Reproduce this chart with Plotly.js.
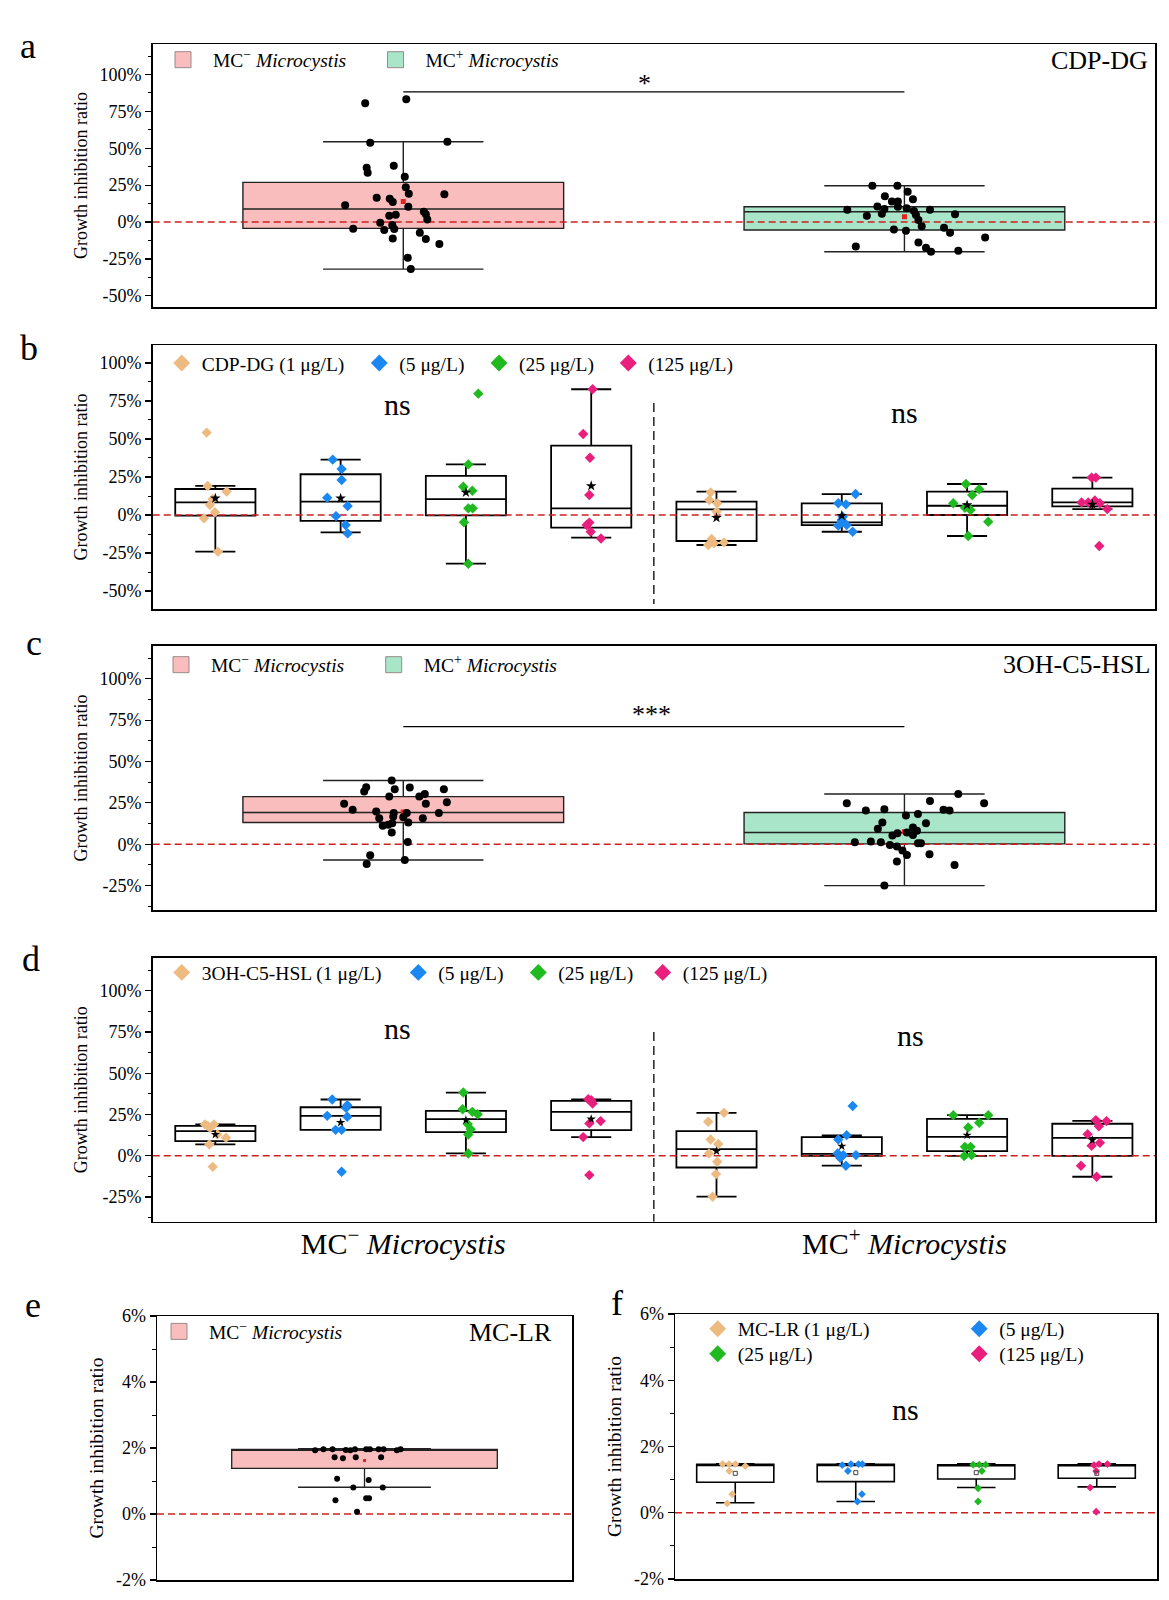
<!DOCTYPE html>
<html><head><meta charset="utf-8">
<script src="https://cdn.plot.ly/plotly-3.0.1.min.js"></script>
<style>html,body{margin:0;padding:0;background:#fff}</style>
</head><body>
<div id="chart" style="width:1169px;height:1600px"></div>
<script>
// ================= DATA (values in %) =================
const strainNames = ['MC<sup>−</sup> <i>Microcystis</i>', 'MC<sup>+</sup> <i>Microcystis</i>'];
const cdpLegend = ['CDP-DG (1 μg/L)', '(5 μg/L)', '(25 μg/L)', '(125 μg/L)'];
const hslLegend = ['3OH-C5-HSL (1 μg/L)', '(5 μg/L)', '(25 μg/L)', '(125 μg/L)'];
const lrLegend = ['MC-LR (1 μg/L)', '(5 μg/L)', '(25 μg/L)', '(125 μg/L)'];

const tickValsBig = [-50, -25, 0, 25, 50, 75, 100];
const tickTextBig = ['-50%', '-25%', '0%', '25%', '50%', '75%', '100%'];
const tickValsMid = [-25, 0, 25, 50, 75, 100];
const tickTextMid = ['-25%', '0%', '25%', '50%', '75%', '100%'];
const tickValsSmall = [-2, 0, 2, 4, 6];
const tickTextSmall = ['-2%', '0%', '2%', '4%', '6%'];

// Panel a: CDP-DG, pooled per strain
const aNegVals = [80.5, 83.2, 53.8, 54.4, 36.8, 33.4, 38.2, 30.7, 23.5, 19.2, 18.8, 16.5, 15.8, 13.6, 11.3, 10.4, 7.0, 5.2, 4.9, 4.3, 1.8, -0.5, -2.0, -4.5, -5.4, -4.7, -7.3, -11.1, -11.5, -14.9, -24.2, -31.9];
const aNegJit = [-0.076, 0.006, -0.066, 0.088, -0.073, -0.071, -0.019, 0.003, 0.005, 0.011, 0.082, -0.053, -0.027, -0.021, -0.116, 0.010, 0.041, 0.045, -0.015, -0.028, 0.048, -0.046, -0.022, -0.100, -0.038, -0.018, 0.033, -0.021, 0.045, 0.072, 0.009, 0.015];
const aPosVals = [24.6, 24.6, 20.5, 15.4, 17.4, 14.0, 14.0, 10.6, 8.8, 8.4, 10.4, 9.3, 7.5, 8.4, 5.6, 4.3, 4.7, 5.2, 1.4, -2.9, -5.0, -5.9, -3.9, -7.3, -10.4, -16.5, -13.8, -17.4, -20.1, -19.5];
const aPosJit = [-0.064, -0.014, 0.0065, 0.017, -0.039, -0.025, -0.013, -0.054, -0.040, -0.114, -0.013, 0.0045, 0.019, 0.051, -0.045, -0.075, 0.023, 0.101, 0.028, 0.0345, -0.021, 0.003, 0.079, 0.091, 0.161, -0.097, 0.028, 0.043, 0.053, 0.1075];
const aQ1 = [-4.3, -5.4], aMedian = [8.8, 7.0], aQ3 = [26.9, 10.4], aLow = [-31.9, -20.1], aHigh = [54.4, 24.6], aMean = [14.0, 3.6];

// Panel b: CDP-DG by concentration (1, 5, 25, 125 μg/L) for MC− then MC+
const bNeg1 = [54.2, 19.1, 15.4, 10.5, 6.6, 1.8, -2.2, -24.1];
const bNeg1Jit = [-0.069, -0.061, 0.09, -0.021, -0.043, -0.003, -0.091, 0.021];
const bNeg5 = [36.4, 30.3, 23.0, 11.4, 5.9, -0.7, -6.6, -12.1];
const bNeg5Jit = [-0.063, 0.008, 0.008, -0.107, 0.056, -0.037, 0.040, 0.056];
const bNeg25 = [79.8, 33.3, 18.6, 16.0, 4.4, 4.4, -4.8, -32.0];
const bNeg25Jit = [0.099, 0.019, -0.021, 0.051, 0.019, 0.054, -0.016, 0.019];
const bNeg125 = [82.7, 53.3, 37.7, 13.2, -5.0, -6.6, -11.0, -15.4];
const bNeg125Jit = [0.011, -0.064, -0.01, -0.015, -0.015, -0.036, -0.004, 0.078];
const bPos1 = [14.9, 9.9, 7.7, 2.2, -15.8, -19.7, -18.0, -18.6];
const bPos1Jit = [-0.047, -0.058, 0.006, 0.001, -0.039, -0.066, 0.06, -0.02];
const bPos5 = [13.8, 7.7, 7.0, -3.3, -7.0, -6.6, -11.0, -1.1];
const bPos5Jit = [0.11, -0.028, 0.033, -0.001, -0.028, 0.039, 0.087, 0.007];
const bPos25 = [20.4, 16.9, 13.2, 7.7, 4.8, 3.3, -4.4, -13.8];
const bPos25Jit = [-0.009, 0.097, 0.041, -0.11, -0.017, 0.028, 0.169, 0.009];
const bPos125 = [24.6, 24.6, 8.3, 8.3, 9.6, 7.7, 3.9, -20.4];
const bPos125Jit = [-0.006, 0.028, -0.086, -0.033, 0.02, 0.06, 0.119, 0.055];
const bQ1 = [-0.4, -3.9, -0.2, -8.3, -17.1, -6.6, 0.0, 5.7];
const bMedian = [8.3, 8.8, 10.5, 4.4, 3.7, -4.8, 6.1, 8.3];
const bQ3 = [17.1, 26.8, 25.7, 45.6, 8.8, 7.7, 15.4, 17.3];
const bLow = [-24.1, -11.4, -32.0, -14.9, -19.7, -11.0, -13.8, 3.9];
const bHigh = [19.1, 36.4, 33.3, 82.7, 15.4, 13.8, 20.4, 24.6];
const bMean = [11.0, 11.0, 14.9, 19.1, -1.8, -0.4, 6.6, 7.0];

// Panel c: 3OH-C5-HSL, pooled per strain
const cNegVals = [38.5, 34.5, 31.9, 33.3, 34.3, 33.3, 28.8, 28.8, 30.4, 24.4, 25.4, 24.4, 20.8, 19.8, 18.8, 18.8, 18.8, 15.7, 16.7, 16.3, 15.7, 13.1, 11.1, 11.7, 12.7, 7.1, 1.4, -6.7, -11.9, -9.5];
const cNegJit = [-0.023, -0.074, -0.078, -0.017, 0.013, 0.081, -0.028, 0.032, 0.043, 0.045, 0.087, -0.118, -0.101, -0.054, -0.019, 0.007, 0.071, -0.048, -0.02, 0.0, 0.039, 0.01, -0.041, -0.03, -0.022, -0.023, 0.009, -0.066, -0.073, 0.003];
const cPosVals = [30.4, 24.8, 24.8, 20.4, 21.2, 26.2, 20.8, 20.4, 17.3, 18.3, 12.7, 13.1, 9.3, 10.1, 8.1, 6.7, 5.2, 7.1, 5.6, 1.2, 1.6, 1.2, -0.4, -1.4, 0.6, 0.6, -3.8, -6.5, -6.0, -10.5, -12.5, -25.0];
const cPosJit = [0.1075, 0.159, -0.115, -0.077, -0.04, 0.051, 0.078, 0.09, 0.003, 0.027, 0.043, -0.044, -0.053, 0.017, 0.025, -0.014, -0.024, 0.005, 0.017, -0.099, -0.067, -0.047, -0.029, -0.015, 0.027, 0.033, -0.004, 0.005, 0.05, -0.015, 0.1, -0.04];
const cQ1 = [13.1, 0.2], cMedian = [19.2, 7.1], cQ3 = [28.8, 19.2], cLow = [-9.5, -25.0], cHigh = [38.5, 30.4], cMean = [19.5, 7.5];

// Panel d: 3OH-C5-HSL by concentration
const dNeg1 = [19.0, 19.0, 16.9, 12.9, 10.9, 6.9, -6.7, 18.1];
const dNeg1Jit = [-0.083, -0.011, -0.043, 0.016, 0.085, -0.048, -0.021, -0.06];
const dNeg5 = [34.1, 30.6, 29.0, 24.2, 23.6, 15.7, 15.7, -9.7];
const dNeg5Jit = [-0.067, 0.053, 0.043, -0.107, 0.053, -0.04, 0.008, 0.008];
const dNeg25 = [38.3, 28.2, 26.6, 25.2, 19.2, 16.1, 12.9, 1.4];
const dNeg25Jit = [-0.021, -0.026, 0.051, 0.094, 0.014, 0.038, 0.019, 0.019];
const dNeg125 = [34.3, 31.7, 21.0, 19.6, 11.3, -11.7, 33.7];
const dNeg125Jit = [-0.024, 0.011, 0.075, -0.015, -0.064, -0.015, 0.0];
const dPos1 = [26.0, 20.6, 9.9, 7.1, 1.4, -3.6, -11.1, -24.8];
const dPos1Jit = [0.06, -0.066, -0.047, 0.014, -0.06, 0.006, -0.004, -0.031];
const dPos5 = [30.2, 12.5, 9.9, 1.4, 0.4, 0.4, -1.2, -6.0];
const dPos5Jit = [0.087, 0.039, -0.028, -0.033, 0.012, 0.113, -0.013, 0.033];
const dPos25 = [24.6, 24.6, 20.0, 17.1, 5.4, 5.4, -0.2, 0.4];
const dPos25Jit = [-0.11, 0.169, 0.097, 0.009, -0.017, 0.028, -0.023, 0.036];
const dPos125 = [21.6, 21.0, 17.9, 13.1, 7.9, 6.0, -6.0, -12.7];
const dPos125Jit = [0.028, 0.113, 0.052, -0.038, 0.06, -0.006, -0.091, 0.034];
const dQ1 = [8.9, 15.7, 14.3, 15.5, -7.1, 0.0, 2.8, 0.0];
const dMedian = [14.9, 24.2, 22.2, 26.6, 4.0, 1.2, 11.5, 10.9];
const dQ3 = [18.1, 29.4, 27.2, 33.3, 14.9, 11.3, 22.4, 19.4];
const dLow = [6.9, 15.7, 1.4, 11.3, -24.8, -6.0, 0.0, -12.7];
const dHigh = [19.0, 34.1, 38.3, 34.1, 26.0, 12.3, 24.6, 21.2];
const dMean = [12.9, 20.2, 21.6, 22.2, 2.8, 5.8, 12.5, 9.5];

// Panel e: MC-LR on MC− strain, pooled
const eVals = [1.93, 1.96, 1.96, 1.94, 1.93, 1.96, 1.96, 1.96, 1.96, 1.96, 1.93, 1.96, 1.72, 1.69, 1.72, 1.72, 1.07, 1.03, 0.80, 0.80, 0.42, 0.48, 0.48, 0.07];
const eJit = [-0.119, -0.099, -0.077, -0.045, -0.034, -0.023, 0.004, 0.013, 0.034, 0.046, 0.078, 0.087, -0.072, -0.052, -0.021, 0.04, -0.066, 0.01, -0.027, 0.044, -0.07, 0.004, 0.011, -0.018];
const eQ1 = [1.385], eMedian = [1.96], eQ3 = [1.96], eLow = [0.81], eHigh = [1.98], eMean = [1.62];

// Panel f: MC-LR by concentration
const f1 = [1.47, 1.47, 1.47, 1.41, 1.26, 0.56, 0.28];
const f1Jit = [-0.105, -0.051, 0.002, 0.083, -0.049, -0.026, -0.067];
const f5 = [1.44, 1.47, 1.47, 1.47, 1.26, 0.56, 0.34];
const f5Jit = [-0.112, -0.04, 0.023, 0.054, -0.065, 0.051, 0.014];
const f25 = [1.45, 1.45, 1.45, 1.26, 0.74, 0.34];
const f25Jit = [-0.025, 0.025, 0.078, 0.047, 0.015, 0.015];
const f125 = [1.44, 1.47, 1.47, 1.26, 0.76, 0.03];
const f125Jit = [-0.023, 0.018, 0.089, -0.005, -0.055, -0.005];
const fQ1 = [0.92, 0.94, 1.02, 1.04];
const fMedian = [1.46, 1.46, 1.45, 1.45];
const fQ3 = [1.46, 1.46, 1.45, 1.45];
const fLow = [0.30, 0.34, 0.76, 0.78];
const fHigh = [1.48, 1.48, 1.48, 1.48];
const fMean = [1.19, 1.21, 1.21, 1.19];

// ================= STYLE / LAYOUT =================
const W = 1169, H = 1600;
const FONT = '"Liberation Serif", "Times New Roman", serif';
const concColors = ['#EDBA82', '#1B87F0', '#1FBA1F', '#EA1E7D'];
const pinkFill = '#F9BDBD', greenFill = '#A8E5C9', swatchLine = '#9A8A8A';
const zeroColor = '#CC2020';

// pixel frames of the six panels
const frames = {
  1: {x: [152.7, 1155], y: [44, 307], xr: [0, 2], yr: [-57.6, 120.7]},
  2: {x: [152.7, 1155], y: [345, 609], xr: [0.5, 8.5], yr: [-61.8, 111.8]},
  3: {x: [152.7, 1155], y: [645.7, 910.4], xr: [0, 2], yr: [-40, 120]},
  4: {x: [152.7, 1155], y: [957.7, 1221.8], xr: [0.5, 8.5], yr: [-40, 120]},
  5: {x: [157, 572], y: [1316, 1580], xr: [0, 1], yr: [-2, 6]},
  6: {x: [675, 1157], y: [1314, 1579], xr: [0.5, 4.5], yr: [-2, 6]}
};
const posPooled = [0.5, 1.5];
const posConc = [1, 2, 3, 4, 5, 6, 7, 8];
const posE = [0.5];
const posF = [1, 2, 3, 4];

function axIds(i) { return i === 1 ? ['x', 'y'] : ['x' + i, 'y' + i]; }

const traces = [];
function addBox(i, xs, q1, med, q3, lo, hi, fill, lineCol, lw) {
  const [xa, ya] = axIds(i);
  traces.push({type: 'box', xaxis: xa, yaxis: ya, x: xs, q1: q1, median: med, q3: q3,
    lowerfence: lo, upperfence: hi, width: 0.64, whiskerwidth: 0.5, fillcolor: fill,
    line: {color: lineCol, width: lw}, boxpoints: false, showlegend: false, hoverinfo: 'skip'});
}
function addZero(i) {
  const [xa, ya] = axIds(i);
  traces.push({type: 'scatter', mode: 'lines', xaxis: xa, yaxis: ya, x: frames[i].xr, y: [0, 0],
    line: {color: zeroColor, width: 1.5, dash: '7px,4px'}, showlegend: false, hoverinfo: 'skip'});
}
function addPoints(i, groups, symbol, size, color) {
  const [xa, ya] = axIds(i);
  const xs = [], ys = [];
  groups.forEach(g => { g.vals.forEach((v, k) => { xs.push(g.pos + g.jit[k]); ys.push(v); }); });
  traces.push({type: 'scatter', mode: 'markers', xaxis: xa, yaxis: ya, x: xs, y: ys,
    marker: {symbol: symbol, size: size, color: color, line: {width: 0}}, showlegend: false, hoverinfo: 'y'});
}
function addMean(i, xs, ys, symbol, size, color, lw) {
  const [xa, ya] = axIds(i);
  traces.push({type: 'scatter', mode: 'markers', xaxis: xa, yaxis: ya, x: xs, y: ys,
    marker: {symbol: symbol, size: size, color: color, line: {width: lw || 0, color: color}}, showlegend: false, hoverinfo: 'skip'});
}
let legendCount = 0;
const legendLayouts = {};
function addLegend(i, name, symbol, size, color, lineCol, cx, cy, itemwidth) {
  const [xa, ya] = axIds(i);
  legendCount++;
  const id = legendCount === 1 ? 'legend' : 'legend' + legendCount;
  traces.push({type: 'scatter', mode: 'markers', xaxis: xa, yaxis: ya, x: [null], y: [null], name: name,
    legend: id, showlegend: true,
    marker: {symbol: symbol, size: size, color: color, line: {width: lineCol ? 1 : 0, color: lineCol || color}}});
  legendLayouts[id] = {x: (cx - (itemwidth + 10) / 2) / W, y: 1 - cy / H, xanchor: 'left', yanchor: 'middle',
    xref: 'paper', yref: 'paper', bgcolor: 'rgba(0,0,0,0)', borderwidth: 0, itemwidth: itemwidth,
    font: {family: FONT, size: 19.5, color: '#000'}, itemclick: false, itemdoubleclick: false};
}

// ---- panel a
addBox(1, [posPooled[0]], [aQ1[0]], [aMedian[0]], [aQ3[0]], [aLow[0]], [aHigh[0]], pinkFill, '#222', 1.4);
addBox(1, [posPooled[1]], [aQ1[1]], [aMedian[1]], [aQ3[1]], [aLow[1]], [aHigh[1]], greenFill, '#222', 1.4);
addZero(1);
addPoints(1, [{pos: posPooled[0], vals: aNegVals, jit: aNegJit}, {pos: posPooled[1], vals: aPosVals, jit: aPosJit}], 'circle', 8, '#000');
addMean(1, posPooled, aMean, 'square', 5, '#E82020');
addLegend(1, strainNames[0], 'square', 16, pinkFill, swatchLine, 183, 60, 50);
addLegend(1, strainNames[1], 'square', 16, greenFill, swatchLine, 395.5, 60, 50);

// ---- panel b
addBox(2, posConc, bQ1, bMedian, bQ3, bLow, bHigh, '#FFFFFF', '#000', 1.8);
addZero(2);
const bNeg = [bNeg1, bNeg5, bNeg25, bNeg125], bNegJ = [bNeg1Jit, bNeg5Jit, bNeg25Jit, bNeg125Jit];
const bPos = [bPos1, bPos5, bPos25, bPos125], bPosJ = [bPos1Jit, bPos5Jit, bPos25Jit, bPos125Jit];
for (let c = 0; c < 4; c++) {
  addPoints(2, [{pos: posConc[c], vals: bNeg[c], jit: bNegJ[c]}, {pos: posConc[c + 4], vals: bPos[c], jit: bPosJ[c]}], 'diamond', 8, concColors[c]);
}
addMean(2, posConc, bMean, 'star', 8, '#000');
[181.7, 379.3, 499, 628.3].forEach((cx, c) => addLegend(2, cdpLegend[c], 'diamond', 13, concColors[c], null, cx, 363.3, 30));

// ---- panel c
addBox(3, [posPooled[0]], [cQ1[0]], [cMedian[0]], [cQ3[0]], [cLow[0]], [cHigh[0]], pinkFill, '#222', 1.4);
addBox(3, [posPooled[1]], [cQ1[1]], [cMedian[1]], [cQ3[1]], [cLow[1]], [cHigh[1]], greenFill, '#222', 1.4);
addZero(3);
addMean(3, posPooled, cMean, 'square', 5, '#E82020');
addPoints(3, [{pos: posPooled[0], vals: cNegVals, jit: cNegJit}, {pos: posPooled[1], vals: cPosVals, jit: cPosJit}], 'circle', 8, '#000');
addLegend(3, strainNames[0], 'square', 16, pinkFill, swatchLine, 181, 665, 50);
addLegend(3, strainNames[1], 'square', 16, greenFill, swatchLine, 393.7, 665, 50);

// ---- panel d
addBox(4, posConc, dQ1, dMedian, dQ3, dLow, dHigh, '#FFFFFF', '#000', 1.8);
addZero(4);
const dNeg = [dNeg1, dNeg5, dNeg25, dNeg125], dNegJ = [dNeg1Jit, dNeg5Jit, dNeg25Jit, dNeg125Jit];
const dPos = [dPos1, dPos5, dPos25, dPos125], dPosJ = [dPos1Jit, dPos5Jit, dPos25Jit, dPos125Jit];
for (let c = 0; c < 4; c++) {
  addPoints(4, [{pos: posConc[c], vals: dNeg[c], jit: dNegJ[c]}, {pos: posConc[c + 4], vals: dPos[c], jit: dPosJ[c]}], 'diamond', 8, concColors[c]);
}
addMean(4, posConc, dMean, 'star', 7, '#000');
[181.7, 418.3, 538.3, 662.7].forEach((cx, c) => addLegend(4, hslLegend[c], 'diamond', 13, concColors[c], null, cx, 972.7, 30));

// ---- panel e
addBox(5, posE, eQ1, eMedian, eQ3, eLow, eHigh, pinkFill, '#222', 1.3);
addZero(5);
addPoints(5, [{pos: posE[0], vals: eVals, jit: eJit}], 'circle', 6, '#000');
addMean(5, posE, eMean, 'square', 3, '#E82020');
addLegend(5, strainNames[0], 'square', 16, pinkFill, swatchLine, 179, 1331.7, 50);

// ---- panel f
addBox(6, posF, fQ1, fMedian, fQ3, fLow, fHigh, '#FFFFFF', '#000', 1.6);
addZero(6);
const fVals = [f1, f5, f25, f125], fJ = [f1Jit, f5Jit, f25Jit, f125Jit];
for (let c = 0; c < 4; c++) addPoints(6, [{pos: posF[c], vals: fVals[c], jit: fJ[c]}], 'diamond', 6, concColors[c]);
addMean(6, posF, fMean, 'square-open', 4, '#444', 1);
const fLegPos = [[717.7, 1329], [979.2, 1329], [717.7, 1354], [979.2, 1354]];
fLegPos.forEach((p, c) => addLegend(6, lrLegend[c], 'diamond', 13, concColors[c], null, p[0], p[1], 30));

// ---- axes
function minorVals(major, range) {
  const step = major[1] - major[0], out = [];
  for (let v = major[0] - step / 2; v <= range[1]; v += step) if (v >= range[0]) out.push(v);
  return out;
}
const layout = {
  width: W, height: H, margin: {l: 0, r: 0, t: 0, b: 0},
  paper_bgcolor: '#fff', plot_bgcolor: '#fff', showlegend: true,
  font: {family: FONT, color: '#000'},
  shapes: [], annotations: []
};
const yTicks = {1: [tickValsBig, tickTextBig], 2: [tickValsBig, tickTextBig], 3: [tickValsMid, tickTextMid],
  4: [tickValsMid, tickTextMid], 5: [tickValsSmall, tickTextSmall], 6: [tickValsSmall, tickTextSmall]};
for (let i = 1; i <= 6; i++) {
  const fr = frames[i];
  const [xa, ya] = axIds(i);
  const xKey = i === 1 ? 'xaxis' : 'xaxis' + i, yKey = i === 1 ? 'yaxis' : 'yaxis' + i;
  layout[xKey] = {domain: [fr.x[0] / W, fr.x[1] / W], range: fr.xr, anchor: ya, showline: true, mirror: true,
    linewidth: 1.5, linecolor: '#000', showgrid: false, zeroline: false, ticks: '', showticklabels: false, fixedrange: true};
  const [tv, tt] = yTicks[i];
  layout[yKey] = {domain: [1 - fr.y[1] / H, 1 - fr.y[0] / H], range: fr.yr, anchor: xa,
    tickmode: 'array', tickvals: tv, ticktext: tt, ticks: 'outside', ticklen: 6, tickwidth: 1.2, tickcolor: '#000',
    showline: true, mirror: true, linewidth: 1.5, linecolor: '#000', showgrid: false, zeroline: false,
    tickfont: {family: FONT, size: 18, color: '#000'},
    title: {text: 'Growth inhibition ratio', font: {family: FONT, size: i >= 5 ? 19.5 : 18, color: '#000'}, standoff: 7},
    minor: {tickmode: 'array', tickvals: minorVals(tv, fr.yr), ticks: 'outside', ticklen: 3.5, tickwidth: 1, tickcolor: '#000', showgrid: false},
    fixedrange: true};
}
// strain labels under panel d
Object.assign(layout.xaxis4, {showticklabels: true, tickmode: 'array', tickvals: [2.5, 6.5], ticktext: strainNames,
  tickfont: {family: FONT, size: 30, color: '#000'}, ticklabelstandoff: -5});
Object.assign(layout, legendLayouts);

// ---- shapes: significance brackets and dashed separators
layout.shapes.push({type: 'line', xref: 'x', yref: 'y', x0: posPooled[0], x1: posPooled[1], y0: 88.3, y1: 88.3, line: {color: '#000', width: 1.3}});
layout.shapes.push({type: 'line', xref: 'x3', yref: 'y3', x0: posPooled[0], x1: posPooled[1], y0: 71.1, y1: 71.1, line: {color: '#000', width: 1.3}});
layout.shapes.push({type: 'line', xref: 'x2', yref: 'y2', x0: 4.5, x1: 4.5, y0: 73.7, y1: -58.5, line: {color: '#000', width: 1.3, dash: '9px,5px'}});
layout.shapes.push({type: 'line', xref: 'x4', yref: 'y4', x0: 4.5, x1: 4.5, y0: 75, y1: -40, line: {color: '#000', width: 1.3, dash: '9px,5px'}});

// ---- annotations
function ann(o) { layout.annotations.push(Object.assign({showarrow: false, font: {family: FONT, size: 26, color: '#000'}}, o)); }
[['a', 28, 46], ['b', 29, 348], ['c', 34, 643], ['d', 31, 959], ['e', 33, 1305], ['f', 617, 1303]].forEach(l =>
  ann({text: l[0], xref: 'paper', yref: 'paper', x: l[1] / W, y: 1 - l[2] / H, xanchor: 'center', yanchor: 'middle', font: {family: FONT, size: 36, color: '#000'}}));
ann({text: 'CDP-DG', xref: 'x domain', yref: 'y', x: 0.995, y: 109.4, xanchor: 'right', yanchor: 'middle'});
ann({text: '3OH-C5-HSL', xref: 'x3 domain', yref: 'y3', x: 0.9967, y: 108.5, xanchor: 'right', yanchor: 'middle'});
ann({text: 'MC-LR', xref: 'x5 domain', yref: 'y5', x: 0.957, y: 5.49, xanchor: 'right', yanchor: 'middle'});
ann({text: '*', xref: 'x', yref: 'y', x: 0.982, y: 94.2, xanchor: 'center', yanchor: 'middle'});
ann({text: '***', xref: 'x3', yref: 'y3', x: 0.996, y: 78.5, xanchor: 'center', yanchor: 'middle'});
const nsFont = {family: FONT, size: 30, color: '#000'};
ann({text: 'ns', xref: 'x2', yref: 'y2', x: 2.45, y: 72.6, font: nsFont});
ann({text: 'ns', xref: 'x2', yref: 'y2', x: 6.5, y: 67.1, font: nsFont});
ann({text: 'ns', xref: 'x4', yref: 'y4', x: 2.45, y: 77, font: nsFont});
ann({text: 'ns', xref: 'x4', yref: 'y4', x: 6.55, y: 73, font: nsFont});
ann({text: 'ns', xref: 'x6', yref: 'y6', x: 2.41, y: 3.12, font: nsFont});

Plotly.newPlot('chart', traces, layout, {displayModeBar: false, staticPlot: true});
</script>
</body></html>
